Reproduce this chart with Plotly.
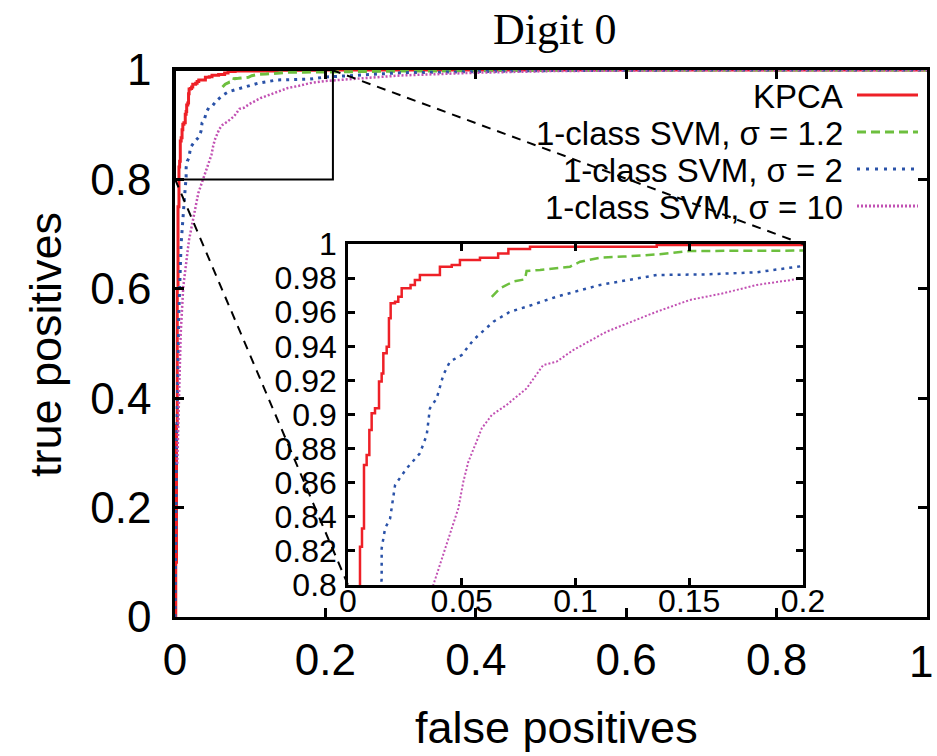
import plotly.graph_objects as go

# ---------------- data ----------------
series_names = ["KPCA", "1-class SVM, σ = 1.2", "1-class SVM, σ = 2", "1-class SVM, σ = 10"]
series_colors = ["#ee2027", "#6dbf3e", "#2a52a8", "#c251b3"]

kpca_x = [0, 0.001, 0.002, 0.003, 0.004, 0.00527, 0.00615, 0.00703, 0.0082, 0.00938, 0.0104, 0.01187,
          0.01363, 0.0148, 0.01553, 0.017, 0.018, 0.01875, 0.02066, 0.0221, 0.0236, 0.0275, 0.0294,
          0.0316, 0.0404, 0.0456, 0.0492, 0.058, 0.066, 0.0705, 0.08, 0.1357, 0.2, 1.0]
kpca_y = [0, 0.1, 0.35, 0.6, 0.75, 0.8225, 0.8332, 0.8704, 0.8762, 0.8909, 0.9007, 0.9036, 0.9193,
          0.9241, 0.9359, 0.9398, 0.9564, 0.9652, 0.9662, 0.9691, 0.974, 0.976, 0.9789, 0.9818,
          0.9867, 0.9877, 0.9906, 0.992, 0.9945, 0.9971, 0.9984, 0.9994, 1.0, 1.0]

svm12_x = [0.0632, 0.0668, 0.0712, 0.0727, 0.0778, 0.0785, 0.0844, 0.0903, 0.0976, 0.102, 0.1108,
           0.121, 0.137, 0.150, 0.172, 0.2, 0.3, 0.45, 0.6, 1.0]
svm12_y = [0.969, 0.974, 0.977, 0.978, 0.9793, 0.9842, 0.9848, 0.9857, 0.9867, 0.9896, 0.992,
           0.9926, 0.994, 0.9959, 0.996, 0.9965, 0.998, 0.999, 1.0, 1.0]

svm2_x = [0, 0.002, 0.005, 0.008, 0.0125, 0.0148, 0.0148, 0.0163, 0.0185, 0.0207, 0.0258, 0.0316,
          0.0346, 0.036, 0.039, 0.0419, 0.0448, 0.05, 0.0551, 0.0639, 0.0712, 0.0785, 0.0917,
          0.1108, 0.1357, 0.1577, 0.1796, 0.2, 0.3, 0.5, 0.7, 1.0]
svm2_y = [0, 0.3, 0.55, 0.68, 0.765, 0.804, 0.8215, 0.8332, 0.839, 0.8587, 0.8684, 0.8772, 0.888,
          0.9036, 0.9095, 0.9232, 0.931, 0.9349, 0.9437, 0.9544, 0.9603, 0.9632, 0.9691, 0.976,
          0.9818, 0.9822, 0.9834, 0.9871, 0.995, 0.999, 1.0, 1.0]

svm10_x = [0.003, 0.0053, 0.0076, 0.011, 0.0186, 0.031, 0.0375, 0.0404, 0.0448, 0.0485, 0.0507,
           0.0529, 0.0565, 0.0588, 0.0632, 0.0697, 0.0785, 0.0844, 0.0858, 0.0917, 0.099, 0.1137,
           0.121, 0.1357, 0.1503, 0.165, 0.1796, 0.2, 0.3, 0.4, 0.5, 0.7, 1.0]
svm10_y = [0.28, 0.41, 0.519, 0.604, 0.689, 0.775, 0.8, 0.8117, 0.8293, 0.845, 0.8606, 0.8723,
           0.8841, 0.8919, 0.8997, 0.9056, 0.9153, 0.927, 0.929, 0.931, 0.9378, 0.9486, 0.9525,
           0.9603, 0.9672, 0.9711, 0.976, 0.9799, 0.99, 0.995, 0.998, 1.0, 1.0]

main_ticks = [0, 0.2, 0.4, 0.6, 0.8, 1.0]
main_ticktext = ["0", "0.2", "0.4", "0.6", "0.8", "1"]
inset_xticks = [0, 0.05, 0.1, 0.15, 0.2]
inset_xticktext = ["0", "0.05", "0.1", "0.15", "0.2"]
inset_yticks = [0.8, 0.82, 0.84, 0.86, 0.88, 0.9, 0.92, 0.94, 0.96, 0.98, 1.0]
inset_yticktext = ["0.8", "0.82", "0.84", "0.86", "0.88", "0.9", "0.92", "0.94", "0.96", "0.98", "1"]

title_text = "Digit 0"
xlabel = "false positives"
ylabel = "true positives"

# ---------------- figure ----------------
SANS = "Liberation Sans, Arial, Helvetica, sans-serif"
SERIF = "Liberation Serif, Times New Roman, serif"

xs = [kpca_x, svm12_x, svm2_x, svm10_x]
ys = [kpca_y, svm12_y, svm2_y, svm10_y]
shapes_line = ["hv", "linear", "linear", "linear"]
main_dash = ["solid", "9px,5px", "3px,5px", "2px,2px"]
main_width = [3, 3, 3, 2.5]
inset_dash = ["solid", "9px,5px", "3px,5px", "2px,2px"]
inset_width = [2.5, 2.5, 2.5, 2]

fig = go.Figure()
for i in range(4):
    fig.add_trace(go.Scatter(x=xs[i], y=ys[i], mode="lines", name=series_names[i],
                             line=dict(color=series_colors[i], width=main_width[i],
                                       dash=main_dash[i], shape=shapes_line[i]),
                             xaxis="x", yaxis="y", showlegend=False))
for i in range(4):
    fig.add_trace(go.Scatter(x=xs[i], y=ys[i], mode="lines", name=series_names[i],
                             line=dict(color=series_colors[i], width=inset_width[i],
                                       dash=inset_dash[i], shape=shapes_line[i]),
                             xaxis="x2", yaxis="y2", showlegend=False))

W, H = 937, 756
L, R, T, B = 175, 10, 70, 139
pw, ph = W - L - R, H - T - B

def px(xp):
    return (xp - L) / pw

def py(yp):
    return (H - B - yp) / ph

axis_common = dict(showline=True, linecolor="black", linewidth=2.5, mirror="ticks",
                   ticks="inside", tickcolor="black", tickwidth=2.5, showgrid=False,
                   zeroline=False, automargin=False, ticklabeloverflow="allow")

# the last main x tick label sits at the right page edge: draw it as an
# annotation anchored inside the page so it is not clipped
main_xticktext_axis = main_ticktext[:-1] + [""]

fig.update_layout(
    width=W, height=H,
    margin=dict(l=L, r=R, t=T, b=B, pad=0, autoexpand=False),
    paper_bgcolor="white", plot_bgcolor="white",
    xaxis=dict(domain=[0, 1], range=[0, 1], tickvals=main_ticks, ticktext=main_xticktext_axis,
               ticklen=9, tickfont=dict(family=SANS, size=44, color="black"),
               ticklabelstandoff=2, anchor="y", **axis_common),
    yaxis=dict(domain=[0, 1], range=[0, 1], tickvals=main_ticks, ticktext=main_ticktext,
               ticklen=9, tickfont=dict(family=SANS, size=44, color="black"),
               ticklabelstandoff=12, anchor="x", **axis_common),
    xaxis2=dict(domain=[px(348), px(803)], range=[0, 0.2], tickvals=inset_xticks,
                ticktext=inset_xticktext, ticklen=7,
                tickfont=dict(family=SANS, size=32, color="black"),
                ticklabelstandoff=-14, anchor="y2", **axis_common),
    yaxis2=dict(domain=[py(585), py(244)], range=[0.8, 1], tickvals=inset_yticks,
                ticktext=inset_yticktext, ticklen=7,
                tickfont=dict(family=SANS, size=32, color="black"),
                ticklabelstandoff=2, anchor="x2", **axis_common),
    showlegend=False,
)

shapes = []
# zoom box in main axes
shapes.append(dict(type="rect", xref="x", yref="y", x0=0, x1=0.21, y0=0.8, y1=1.0,
                   line=dict(color="black", width=2), layer="above"))
# connector lines
shapes.append(dict(type="line", xref="paper", yref="paper", x0=px(332), y0=py(70),
                   x1=px(803), y1=py(244), line=dict(color="black", width=2, dash="9px,7px"),
                   layer="above"))
shapes.append(dict(type="line", xref="paper", yref="paper", x0=px(175), y0=py(179),
                   x1=px(348), y1=py(585), line=dict(color="black", width=2, dash="9px,7px"),
                   layer="above"))

# legend
legend_rows = [96, 133, 170, 207]
legend_dash = ["solid", "9px,5px", "3px,6px", "2px,2px"]
annotations = []
for i, name in enumerate(series_names):
    annotations.append(dict(text=name, xref="paper", yref="paper", x=px(845), y=py(legend_rows[i]),
                            xanchor="right", yanchor="middle", showarrow=False,
                            font=dict(family=SANS, size=33, color="black")))
    shapes.append(dict(type="line", xref="paper", yref="paper", x0=px(857), x1=px(918),
                       y0=py(legend_rows[i] - 1), y1=py(legend_rows[i] - 1),
                       line=dict(color=series_colors[i], width=3, dash=legend_dash[i])))

annotations.append(dict(text=main_ticktext[-1], xref="paper", yref="paper", x=px(935), y=py(661),
                        xanchor="right", yanchor="middle", showarrow=False,
                        font=dict(family=SANS, size=44, color="black")))
annotations.append(dict(text=title_text, xref="paper", yref="paper", x=px(554), y=py(30),
                        xanchor="center", yanchor="middle", showarrow=False,
                        font=dict(family=SERIF, size=44, color="black")))
annotations.append(dict(text=xlabel, xref="paper", yref="paper", x=px(556), y=py(727),
                        xanchor="center", yanchor="middle", showarrow=False,
                        font=dict(family=SANS, size=45, color="black")))
annotations.append(dict(text=ylabel, xref="paper", yref="paper", x=px(45), y=py(345),
                        xanchor="center", yanchor="middle", showarrow=False, textangle=-90,
                        font=dict(family=SANS, size=45, color="black")))

fig.update_layout(shapes=shapes, annotations=annotations)
fig.write_html("out.html")
